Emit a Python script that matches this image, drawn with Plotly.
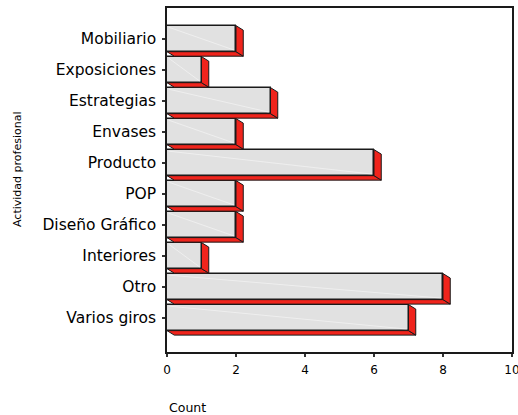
import plotly.graph_objects as go

categories = ["Varios giros", "Otro", "Interiores", "Diseño Gráfico", "POP",
              "Producto", "Envases", "Estrategias", "Exposiciones", "Mobiliario"]
counts = [7, 8, 1, 2, 2, 6, 2, 3, 1, 2]
x_ticks = [0, 2, 4, 6, 8, 10]

positions = list(range(len(categories)))
BAR_W = 0.84
DX = 0.21   # depth offset in x data units
DY = 0.145  # depth offset in category units

FACE = "#e1e1e1"
RED = "#f0241c"
FONT = "DejaVu Sans"

# depth polygons (right side + bottom strip), built from data
side_x, side_y = [], []
bot_x, bot_y = [], []
glare_x, glare_y = [], []
for p, v in zip(positions, counts):
    top = p + BAR_W / 2
    bot = p - BAR_W / 2
    side_x += [v, v + DX, v + DX, v, v, None]
    side_y += [top, top - DY, bot - DY, bot, top, None]
    bot_x += [0, v, v + DX, DX, 0, None]
    bot_y += [bot, bot, bot - DY, bot - DY, bot, None]
    glare_x += [0.05, v - 0.05, None]
    glare_y += [top - 0.05, bot + 0.05, None]

fig = go.Figure()
fig.add_trace(go.Scatter(x=bot_x, y=bot_y, mode="lines", fill="toself",
                         fillcolor=RED, line=dict(color="#1a1a1a", width=1),
                         hoverinfo="skip", showlegend=False))
fig.add_trace(go.Scatter(x=side_x, y=side_y, mode="lines", fill="toself",
                         fillcolor=RED, line=dict(color="#1a1a1a", width=1),
                         hoverinfo="skip", showlegend=False))
fig.add_trace(go.Bar(x=counts, y=positions, orientation="h", width=BAR_W,
                     marker=dict(color=FACE, line=dict(color="#1a1a1a", width=1.5)),
                     showlegend=False))
fig.add_trace(go.Scatter(x=glare_x, y=glare_y, mode="lines",
                         line=dict(color="rgba(255,255,255,0.45)", width=1),
                         hoverinfo="skip", showlegend=False))

fig.update_layout(
    width=518, height=415,
    margin=dict(l=167, r=6, t=8, b=63, autoexpand=False),
    paper_bgcolor="white", plot_bgcolor="white",
    font=dict(family=FONT, color="black"),
    bargap=0,
    xaxis=dict(range=[0, 10], tickvals=x_ticks, ticktext=[str(t) for t in x_ticks],
               showgrid=False, zeroline=False, showline=True, mirror=True,
               linecolor="#1a1a1a", linewidth=1.5, automargin=False,
               ticks="outside", ticklen=3, tickwidth=2, tickcolor="#333",
               tickfont=dict(size=12, family=FONT), ticklabelstandoff=3,
               ticklabeloverflow="allow"),
    yaxis=dict(range=[-1.11, 9.99], tickvals=positions, ticktext=categories,
               showgrid=False, zeroline=False, showline=True, mirror=True,
               linecolor="#1a1a1a", linewidth=1.5, automargin=False,
               ticks="outside", ticklen=3, tickwidth=2, tickcolor="#333",
               tickfont=dict(size=15.5, family=FONT), ticklabelstandoff=3),
    annotations=[
        dict(text="Actividad profesional", xref="paper", yref="paper",
             x=(18 - 167) / 345, y=(352 - 170) / 344, xanchor="center", yanchor="middle",
             textangle=-90, showarrow=False, font=dict(size=11, family=FONT)),
        dict(text="Count", xref="paper", yref="paper",
             x=0, y=(352 - 407) / 344, xanchor="left", yanchor="middle",
             showarrow=False, font=dict(size=12.5, family=FONT)),
    ],
)

fig.write_html("out.html", config={"displayModeBar": False},
               post_script="document.body.style.margin='0';document.body.style.overflow='hidden';")
